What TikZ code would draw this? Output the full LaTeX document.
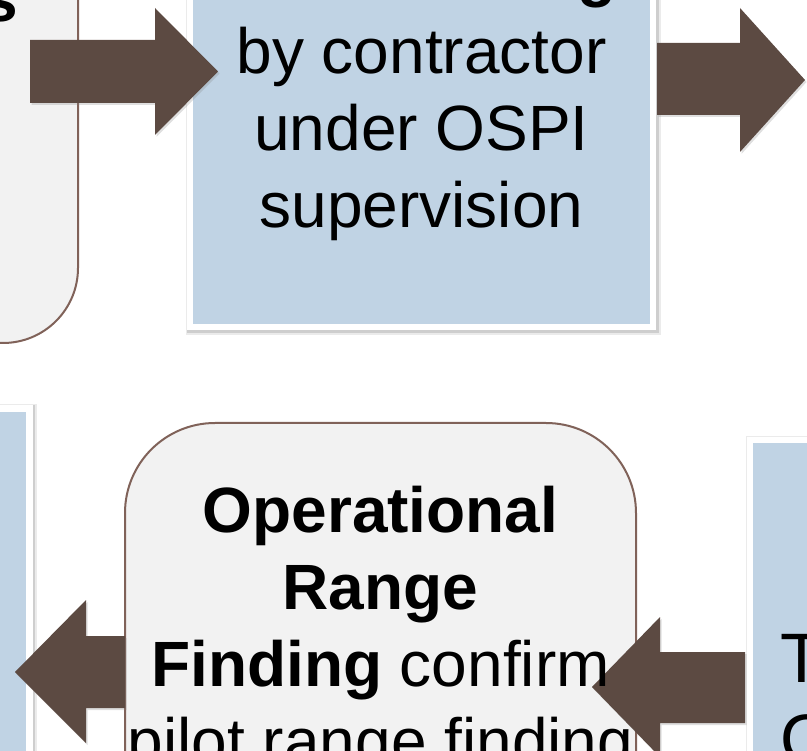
\documentclass[tikz,border=0pt]{standalone}
\usepackage{fontspec}
\setmainfont{Liberation Sans}
\usetikzlibrary{shadows}
\definecolor{arrowbrown}{RGB}{92,74,66}
\definecolor{greyfill}{RGB}{242,242,242}
\definecolor{greyline}{RGB}{128,98,89}
\definecolor{bluefill}{RGB}{192,211,228}
\begin{document}
\begin{tikzpicture}[x=1pt,y=-1pt,
    greybox/.style={draw=greyline,line width=2pt,fill=greyfill},
    bluebox/.style={draw=white,line width=6.5pt,fill=bluefill,
      preaction={draw=black,draw opacity=0.08,line width=12pt,transform canvas={shift={(1.5,2)}}},
      preaction={draw=black,draw opacity=0.12,line width=9pt,transform canvas={shift={(1,1.5)}}}},
    bigarrow/.style={fill=arrowbrown,
      drop shadow={opacity=0.25,shadow xshift=1.5pt,shadow yshift=-2pt}},
    txt/.style={inner sep=0pt,align=center,font=\fontsize{64}{77}\selectfont}]
  \useasboundingbox (0,0) rectangle (807,751);
  \clip (0,0) rectangle (807,751);
  % boxes
  \begin{scope}[every node/.style={rectangle,inner sep=0pt}]
    \node[greybox,rounded corners=75pt,minimum width=378pt,minimum height=643pt] (review) at (-111,21.5) {};
    \node[bluebox,minimum width=463pt,minimum height=627pt] (pilot) at (421.5,13.5) {};
    \node[bluebox,minimum width=329.5pt,minimum height=691.5pt] (adopt) at (-135.25,754.25) {};
    \node[greybox,rounded corners=90pt,minimum width=511pt,minimum height=677pt] (oper) at (380.5,761.5) {};
    \node[bluebox,minimum width=350pt,minimum height=660pt] (train) at (925,770) {};
  \end{scope}
  % block arrows
  \fill[bigarrow] (30,40) -- (155,40) -- (155,8) -- (218,71.5) -- (155,135) -- (155,103) -- (30,103) -- cycle;
  \fill[bigarrow] (657,43) -- (740,43) -- (740,8) -- (805,80) -- (740,152) -- (740,115) -- (657,115) -- cycle;
  \fill[bigarrow] (125,636) -- (86,636) -- (86,600) -- (15,672) -- (86,743) -- (86,708) -- (125,708) -- cycle;
  \fill[bigarrow] (745,652) -- (660,652) -- (660,617) -- (592,687) -- (660,757) -- (660,723) -- (745,723) -- cycle;
  % texts
  \node[txt,anchor=base east,font=\bfseries\fontsize{64}{77}\selectfont] (reviewtext) at (18,22) {s};
  \node[txt,anchor=base east,font=\bfseries\fontsize{64}{77}\selectfont] (pilothead) at (617,-5) {g};
  \node[txt,anchor=north] (pilottext) at (421.5,27.4) {by contractor\\under OSPI\\supervision};
  \node[txt,anchor=north] (opertext) at (380.5,485.5)
    {\textbf{Operational}\\\textbf{Range}\\\textbf{Finding} confirm\\pilot range finding};
  \node[txt,anchor=base west,font=\fontsize{70}{78}\selectfont] (traintext) at (780.5,682) {T};
  \node[txt,anchor=base west,font=\fontsize{70}{78}\selectfont] (traintext2) at (780.5,763) {O};
\end{tikzpicture}
\end{document}
